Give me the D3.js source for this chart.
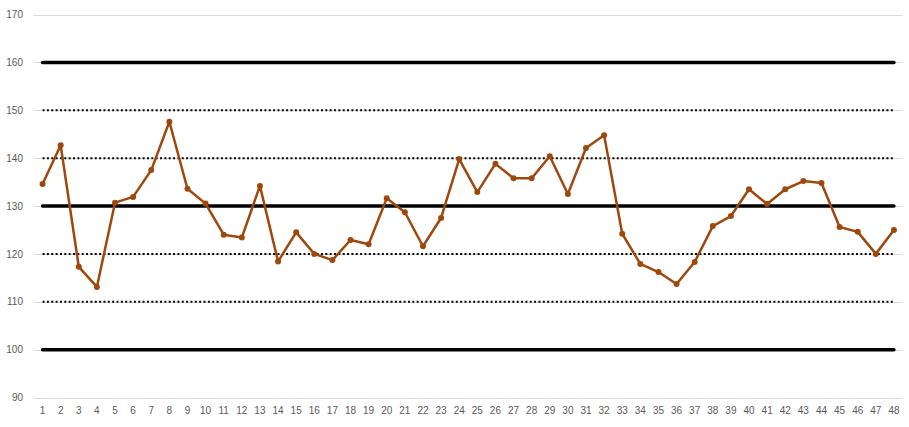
<!DOCTYPE html>
<html>
<head>
<meta charset="utf-8">
<script src="https://cdn.jsdelivr.net/npm/d3@7"></script>
<style>
  body { margin: 0; background: #fff; }
  text { font-family: "Liberation Sans", Arial, sans-serif; }
</style>
</head>
<body>
<div id="chart"></div>
<script>
// data
var categories = d3.range(1, 49);
var values = [134.6, 142.7, 117.3, 113.1, 130.7, 131.9, 137.5, 147.6, 133.6, 130.5,
              124.0, 123.4, 134.2, 118.4, 124.5, 120.0, 118.7, 122.9, 122.0, 131.6,
              128.7, 121.6, 127.5, 139.8, 132.9, 138.8, 135.8, 135.8, 140.4, 132.5,
              142.1, 144.8, 124.2, 117.9, 116.2, 113.7, 118.3, 125.8, 127.9, 133.5,
              130.4, 133.5, 135.2, 134.8, 125.6, 124.6, 120.0, 125.0];
var solidLevels = [100, 130, 160];
var dottedLevels = [110, 120, 140, 150];
var yTicks = [90, 100, 110, 120, 130, 140, 150, 160, 170];

var chart_width = 909;
var chart_height = 427;
var plot_left = 33.5, plot_right = 903, plot_top = 14.5, plot_bottom = 397.5;

var svg = d3.select('#chart')
	.append('svg')
	.attr('width', chart_width)
	.attr('height', chart_height);

var x = d3.scaleBand()
	.domain(categories)
	.range([plot_left, plot_right]);

var y = d3.scaleLinear()
	.domain([90, 170])
	.range([plot_bottom, plot_top]);

function cx(d) { return x(d) + x.bandwidth() / 2; }

// gridlines
svg.append('g')
	.selectAll('line')
	.data(yTicks)
	.enter()
	.append('line')
	.attr('x1', plot_left)
	.attr('x2', plot_right)
	.attr('y1', function(d){ return Math.round(y(d)) + 0.5; })
	.attr('y2', function(d){ return Math.round(y(d)) + 0.5; })
	.attr('stroke', '#d9d9d9')
	.attr('stroke-width', 1);

// y labels
var yAxis = d3.axisLeft(y).tickValues(yTicks).tickSize(0).tickPadding(0);
svg.append('g')
	.attr('transform', 'translate(23,0)')
	.call(yAxis)
	.call(function(g){ g.select('.domain').remove(); })
	.selectAll('text')
	.attr('fill', '#595959')
	.attr('font-size', 10);

// x labels
var xAxis = d3.axisBottom(x).tickSize(0).tickPadding(0);
svg.append('g')
	.attr('transform', 'translate(0,' + (plot_bottom + 9) + ')')
	.call(xAxis)
	.call(function(g){ g.select('.domain').remove(); })
	.selectAll('text')
	.attr('fill', '#595959')
	.attr('font-size', 10);

var first = categories[0], last = categories[categories.length - 1];

// dotted limit lines
svg.append('g')
	.selectAll('line')
	.data(dottedLevels)
	.enter()
	.append('line')
	.attr('x1', cx(first))
	.attr('x2', cx(last))
	.attr('y1', function(d){ return y(d); })
	.attr('y2', function(d){ return y(d); })
	.attr('stroke', '#000')
	.attr('stroke-width', 2)
	.attr('stroke-dasharray', '2,2.35');

// solid limit lines
svg.append('g')
	.selectAll('line')
	.data(solidLevels)
	.enter()
	.append('line')
	.attr('x1', cx(first))
	.attr('x2', cx(last))
	.attr('y1', function(d){ return y(d); })
	.attr('y2', function(d){ return y(d); })
	.attr('stroke', '#000')
	.attr('stroke-width', 3.5)
	.attr('stroke-linecap', 'round');

// series line
var line = d3.line()
	.x(function(d, i){ return cx(categories[i]); })
	.y(function(d){ return y(d); });

svg.append('path')
	.datum(values)
	.attr('d', line)
	.attr('fill', 'none')
	.attr('stroke', '#9e480e')
	.attr('stroke-width', 2.5)
	.attr('stroke-linejoin', 'round');

svg.append('g')
	.selectAll('circle')
	.data(values)
	.enter()
	.append('circle')
	.attr('cx', function(d, i){ return cx(categories[i]); })
	.attr('cy', function(d){ return y(d); })
	.attr('r', 3)
	.attr('fill', '#9e480e');
</script>
</body>
</html>
